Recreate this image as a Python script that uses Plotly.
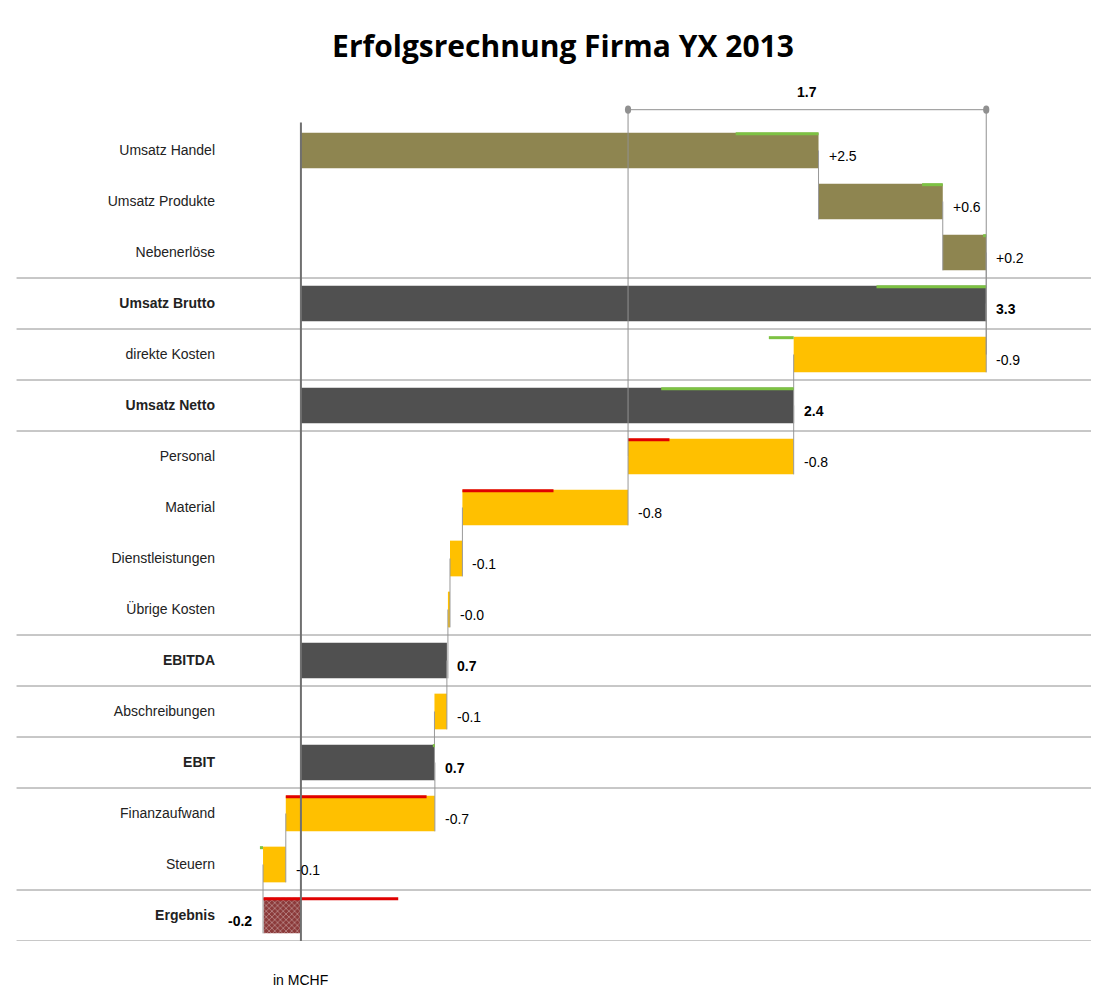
import plotly.graph_objects as go

categories = ["Umsatz Handel","Umsatz Produkte","Nebenerlöse","Umsatz Brutto","direkte Kosten",
              "Umsatz Netto","Personal","Material","Dienstleistungen","Übrige Kosten","EBITDA",
              "Abschreibungen","EBIT","Finanzaufwand","Steuern","Ergebnis"]
kinds = ["rev","rev","rev","tot","cost","tot","cost","cost","cost","cost","tot","cost","tot","cost","cost","res"]
values = [2.5, 0.6, 0.21, 3.31, -0.93, 2.38, -0.8, -0.8, -0.06, -0.01, 0.705, -0.06, 0.647, -0.72, -0.11, -0.18]
labels = ["+2.5","+0.6","+0.2","3.3","-0.9","2.4","-0.8","-0.8","-0.1","-0.0","0.7","-0.1","0.7","-0.7","-0.1","-0.2"]
# deviation vs. previous year, drawn from bar end (negative = favourable)
deviation = [-0.4, -0.1, -0.015, -0.53, -0.12, -0.64, 0.2, 0.44, 0, 0, 0, 0, -0.01, 0.68, -0.015, 0.65]
separators_after = [2, 3, 4, 5, 9, 10, 11, 12, 14, 15]

colors = {"rev": "#8E8550", "tot": "#505050", "cost": "#FFC000", "res": "#8B3A3A"}

bases, ends = [], []
cum = 0
for k, v in zip(kinds, values):
    if k in ("tot", "res"):
        bases.append(0); ends.append(v); cum = v
    else:
        bases.append(cum); cum += v; ends.append(cum)

ys = list(range(len(categories)))
fig = go.Figure()
fig.add_trace(go.Bar(
    y=ys, x=[e - b for b, e in zip(bases, ends)], base=bases, orientation="h", width=0.7,
    marker=dict(color=[colors[k] for k in kinds], line_width=0,
                pattern=dict(shape=["" if k != "res" else "x" for k in kinds], fgcolor="#5a2020", size=4, solidity=0.3)),
    hoverinfo="skip", showlegend=False))

shapes, ann = [], []
for i, (b, e, d) in enumerate(zip(bases, ends, deviation)):
    if d != 0:
        shapes.append(dict(type="line", x0=e, x1=e + d, y0=i - 0.33, y1=i - 0.33, xref="x", yref="y",
                           line=dict(color="#E00000" if d > 0 else "#7DC243", width=3)))
    if i + 1 < len(categories):
        shapes.append(dict(type="line", x0=e, x1=e, y0=i, y1=i + 1.35, xref="x", yref="y",
                           line=dict(color="#999999", width=1)))
    bold = kinds[i] in ("tot", "res")
    txt = f"<b>{labels[i]}</b>" if bold else labels[i]
    if kinds[i] == "res":
        ann.append(dict(x=min(b, e), y=i + 0.1, text=txt, showarrow=False, xanchor="right", xshift=-10,
                        font=dict(size=14, color="black")))
    else:
        ann.append(dict(x=max(b, e), y=i + 0.1, text=txt, showarrow=False, xanchor="left", xshift=8,
                        font=dict(size=14, color="black")))

for s in separators_after:
    shapes.append(dict(type="line", x0=-0.235, x1=1.0, y0=s + 0.5, y1=s + 0.5, xref="paper", yref="y",
                       line=dict(color="#909090", width=1)))
# zero axis
shapes.append(dict(type="line", x0=0, x1=0, y0=-0.55, y1=15.6, xref="x", yref="y", line=dict(color="#707070", width=2)))
# bracket between Umsatz Brutto and after Personal
top_v, low_v = ends[3], ends[6]
shapes += [
    dict(type="line", x0=low_v, x1=top_v, y0=-0.8, y1=-0.8, xref="x", yref="y", line=dict(color="#909090", width=1)),
    dict(type="line", x0=low_v, x1=low_v, y0=-0.8, y1=6, xref="x", yref="y", line=dict(color="#909090", width=1)),
    dict(type="line", x0=top_v, x1=top_v, y0=-0.8, y1=4, xref="x", yref="y", line=dict(color="#909090", width=1)),
    dict(type="circle", x0=low_v - 0.015, x1=low_v + 0.015, y0=-0.88, y1=-0.72, xref="x", yref="y",
         fillcolor="#909090", line_width=0),
    dict(type="circle", x0=top_v - 0.015, x1=top_v + 0.015, y0=-0.88, y1=-0.72, xref="x", yref="y",
         fillcolor="#909090", line_width=0),
]
ann.append(dict(x=(low_v + top_v) / 2, y=-1.15, text=f"<b>{top_v - low_v:.1f}</b>", showarrow=False,
                font=dict(size=14, color="black")))
ann.append(dict(x=0, y=-0.045, xref="x", yref="paper", text="in MCHF", showarrow=False, yanchor="middle",
                font=dict(size=14, color="black")))

ticktext = [f"<b>{c}</b>" if k in ("tot", "res") else c for c, k in zip(categories, kinds)]
fig.update_layout(
    width=1110, height=992, plot_bgcolor="white", paper_bgcolor="white",
    margin=dict(l=213, r=27, t=66, b=59),
    font=dict(family="Liberation Sans, Arial", size=14, color="#222"),
    title=dict(text="<b>Erfolgsrechnung Firma YX 2013</b>", x=0.5, xanchor="center", y=0.972,
               font=dict(family="Open Sans, DejaVu Sans", size=30, color="black")),
    xaxis=dict(range=[-0.386, 3.816], visible=False),
    yaxis=dict(range=[15.5, -1.5], tickvals=ys, ticktext=ticktext, showgrid=False, zeroline=False,
               ticks="", ticklabelstandoff=5),
    shapes=shapes, annotations=ann, bargap=0.3,
)
fig.write_html("out.html")
